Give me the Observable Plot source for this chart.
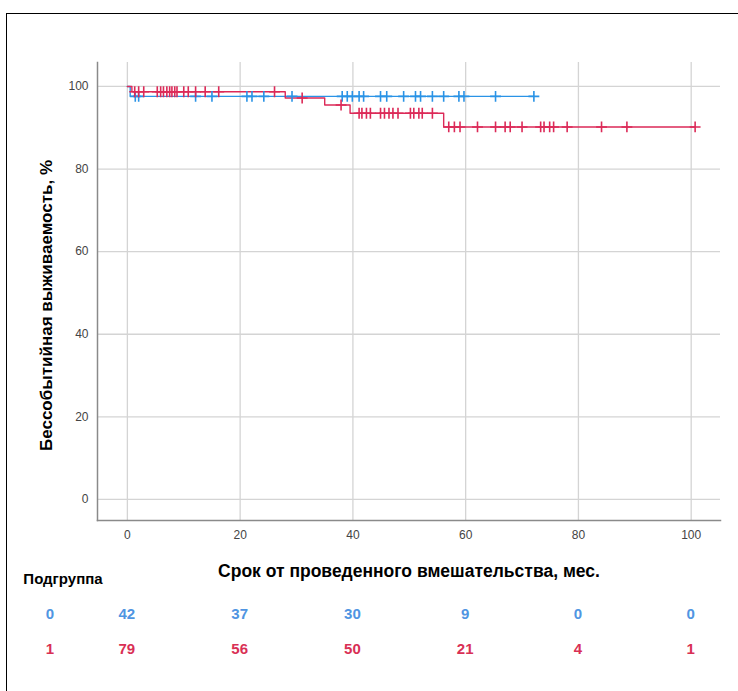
<!DOCTYPE html>
<html><head><meta charset="utf-8">
<script src="https://cdn.jsdelivr.net/npm/d3@7"></script>
<script src="https://cdn.jsdelivr.net/npm/@observablehq/plot@0.6"></script>
<style>
body{margin:0;background:#fff;}
#page{position:relative;width:738px;height:691px;overflow:hidden;font-family:"Liberation Sans",Arial,sans-serif;}
#frame{position:absolute;left:6px;top:13px;width:740px;height:690px;border-top:1.5px solid #000;border-left:1.5px solid #000;}
#chart{position:absolute;left:0;top:14px;}
.tbl{position:absolute;font-weight:bold;font-size:15px;transform:translate(-50%,-50%);white-space:nowrap;}
</style></head><body><div id="page"><div id="frame"></div><div id="chart"></div></div>
<script>
const groups = ["0", "1"];
const groupColors = ["#2a93e6", "#dc2a58"];
const tableColors = ["#4f95e2", "#d93055"];
const g0StepTimes = [0, 0.5, 72.1];
const g0StepSurv = [100, 97.6, 97.6];
const g1StepTimes = [0, 0.8, 28.0, 35.0, 39.5, 56.1, 100.7];
const g1StepSurv = [100, 98.7, 97.2, 95.5, 93.5, 90.2, 90.2];
const g0Censored = [1.4, 2.0, 12.1, 15.0, 21.2, 22.1, 24.2, 29.2, 38.1, 39.0, 39.9, 41.1, 41.9, 44.9, 46.0, 49.0, 51.1, 52.0, 54.1, 56.1, 58.8, 59.7, 65.3, 72.1];
const g1Censored = [1.3, 2.0, 2.9, 5.3, 5.9, 6.4, 7.0, 7.5, 7.9, 8.4, 8.8, 10.0, 10.8, 12.1, 13.8, 16.2, 26.1, 31.0, 37.9, 41.1, 41.6, 42.4, 43.1, 44.9, 45.6, 46.4, 47.1, 48.0, 50.2, 50.8, 51.7, 52.3, 54.1, 57.0, 58.0, 59.0, 62.1, 65.3, 67.0, 67.9, 70.0, 73.3, 73.9, 74.9, 75.6, 78.0, 84.1, 88.6, 100.7];
const riskTimes = [0, 20, 40, 60, 80, 100];
const g0AtRisk = [42, 37, 30, 9, 0, 0];
const g1AtRisk = [79, 56, 50, 21, 4, 1];
const xTicks = [0, 20, 40, 60, 80, 100];
const yTicks = [0, 20, 40, 60, 80, 100];
const xTitle = "Срок от проведенного вмешательства, мес.";
const yTitle = "Бессобытийная выживаемость, %";
const tableTitle = "Подгруппа";

const steps = [[g0StepTimes, g0StepSurv], [g1StepTimes, g1StepSurv]];
const censored = [g0Censored, g1Censored];
const atRisk = [g0AtRisk, g1AtRisk];

function survAt(times, surv, t) {
  let v = surv[0];
  for (let i = 0; i < times.length; i++) if (times[i] <= t) v = surv[i];
  return v;
}
const lineData = [];
const censorData = [];
groups.forEach((g, gi) => {
  const [ts, ss] = steps[gi];
  ts.forEach((t, i) => lineData.push({group: g, t, s: ss[i]}));
  censored[gi].forEach(t => censorData.push({group: g, t, s: survAt(ts, ss, t)}));
});

const font = '"Liberation Sans",Arial,sans-serif';
const chart = Plot.plot({
  width: 738, height: 586,
  marginLeft: 97, marginRight: 18, marginTop: 48, marginBottom: 80,
  style: {fontFamily: font, fontSize: "12px", color: "#444", background: "transparent"},
  x: {domain: [-5.3, 105.2], ticks: xTicks, tickSize: 0, tickPadding: 10, label: null},
  y: {domain: [-5.1, 105.8], ticks: yTicks, tickSize: 0, tickPadding: 9, label: null},
  color: {domain: groups, range: groupColors},
  marks: [
    Plot.gridX(xTicks, {stroke: "#d4d4d4", strokeOpacity: 1, strokeWidth: 1.3}),
    Plot.gridY(yTicks, {stroke: "#d4d4d4", strokeOpacity: 1, strokeWidth: 1.3}),
    Plot.frame({anchor: "left", stroke: "#8a8a8a", strokeWidth: 1.5}),
    Plot.frame({anchor: "bottom", stroke: "#8a8a8a", strokeWidth: 1.5}),
    Plot.axisX(xTicks, {tickSize: 0, tickPadding: 10, fontSize: 12, label: null}),
    Plot.axisY(yTicks, {tickSize: 0, tickPadding: 9, fontSize: 12, label: null}),
    Plot.line(lineData, {x: "t", y: "s", z: "group", stroke: "group", curve: "step-after", strokeWidth: 1.4}),
    Plot.dot(censorData, {x: "t", y: "s", stroke: "group", symbol: "plus", r: 3.6, strokeWidth: 1.6}),
    Plot.text([yTitle], {frameAnchor: "left", textAnchor: "middle", rotate: -90, dx: -51, dy: 14, fontSize: 17, fontWeight: "bold", fill: "#000"}),
    Plot.text([xTitle], {frameAnchor: "bottom", textAnchor: "middle", dy: 56, fontSize: 17.5, fill: "#000", fontWeight: "bold"})
  ]
});
document.getElementById("chart").appendChild(chart);

const xs = chart.scale("x");
const page = document.getElementById("page");
function addText(txt, left, top, color, extra) {
  const d = document.createElement("div");
  d.className = "tbl";
  d.textContent = txt;
  d.style.left = left + "px";
  d.style.top = top + "px";
  d.style.color = color;
  if (extra) Object.assign(d.style, extra);
  page.appendChild(d);
}
addText(tableTitle, 63, 578, "#000", {fontSize: "15px"});
const rowY = [613, 648];
groups.forEach((g, gi) => {
  addText(g, 50, rowY[gi], tableColors[gi]);
  riskTimes.forEach((t, i) => addText(String(atRisk[gi][i]), xs.apply(t), rowY[gi], tableColors[gi]));
});
</script></body></html>
